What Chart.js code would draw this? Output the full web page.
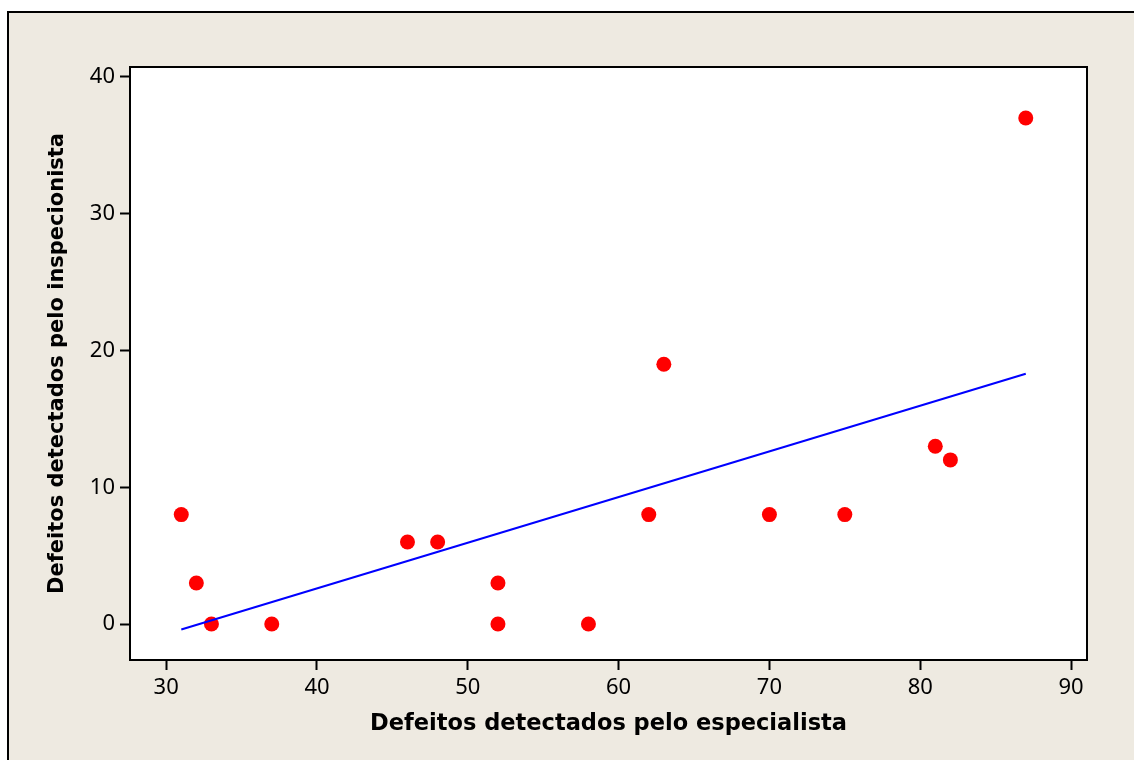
<!DOCTYPE html>
<html>
<head>
<meta charset="utf-8">
<title>Defeitos detectados</title>
<script src="https://cdn.jsdelivr.net/npm/chart.js@4.4.1/dist/chart.umd.min.js"></script>
<style>
  html, body { margin: 0; padding: 0; background: #ffffff; }
  canvas { display: block; }
</style>
</head>
<body>
<canvas id="scatterChart" width="1134" height="760"></canvas>
<script>
// especialista (x) vs inspecionista (y)
const especialista = [31, 32, 33, 37, 46, 48, 52, 52, 58, 62, 63, 70, 75, 81, 82, 87];
const inspecionista = [8, 3, 0, 0, 6, 6, 3, 0, 0, 8, 19, 8, 8, 13, 12, 37];

// fitted line ends
const fitX = [31, 87];
const fitY = [-0.4, 18.3];

const xTicks = [30, 40, 50, 60, 70, 80, 90];
const yTicks = [0, 10, 20, 30, 40];

const xTitle = "Defeitos detectados pelo especialista";
const yTitle = "Defeitos detectados pelo inspecionista";

const points = especialista.map((x, i) => ({ x: x, y: inspecionista[i] }));
const fitLine = fitX.map((x, i) => ({ x: x, y: fitY[i] }));

const frame = {
  id: 'frame',
  beforeDraw(chart) {
    const ctx = chart.ctx;
    ctx.save();
    ctx.fillStyle = '#ffffff';
    ctx.fillRect(0, 0, chart.width, chart.height);
    ctx.fillStyle = '#EEEAE1';
    ctx.fillRect(8, 12, chart.width, chart.height);
    ctx.strokeStyle = '#000000';
    ctx.lineWidth = 2;
    ctx.beginPath();
    ctx.moveTo(8, chart.height + 5);
    ctx.lineTo(8, 12);
    ctx.lineTo(chart.width + 5, 12);
    ctx.stroke();
    const a = chart.chartArea;
    ctx.fillStyle = '#ffffff';
    ctx.fillRect(a.left, a.top, a.right - a.left, a.bottom - a.top);
    ctx.restore();
  },
  afterDatasetsDraw(chart) {
    const ctx = chart.ctx;
    const a = chart.chartArea;
    ctx.save();
    ctx.strokeStyle = '#000000';
    ctx.lineWidth = 2;
    ctx.strokeRect(a.left, a.top, a.right - a.left, a.bottom - a.top);
    ctx.restore();
  }
};

const tickFont = { family: 'Noto Sans', size: 22 };

new Chart(document.getElementById('scatterChart'), {
  type: 'scatter',
  data: {
    datasets: [
      {
        data: fitLine,
        showLine: true,
        borderColor: '#0000FF',
        borderWidth: 2,
        pointRadius: 0,
        fill: false
      },
      {
        data: points,
        backgroundColor: '#FF0000',
        borderWidth: 0,
        pointRadius: 7.5
      }
    ]
  },
  options: {
    responsive: false,
    animation: false,
    layout: { padding: { top: 67, right: 47, left: 0, bottom: 0 } },
    plugins: {
      legend: { display: false },
      tooltip: { enabled: false }
    },
    scales: {
      x: {
        type: 'linear',
        min: 27.6,
        max: 91.06,
        afterBuildTicks: s => { s.ticks = xTicks.map(v => ({ value: v })); },
        afterFit: s => { s.height = 100; },
        grid: {
          drawOnChartArea: false,
          drawTicks: true,
          tickLength: 10,
          tickColor: '#000000',
          tickWidth: 2
        },
        border: { display: true, color: '#000000', width: 2 },
        ticks: { color: '#000000', font: tickFont, padding: 5, maxRotation: 0 },
        title: {
          display: true,
          text: xTitle,
          color: '#000000',
          font: { family: 'DejaVu Sans', size: 22.5, weight: 'bold' },
          padding: { top: 0, bottom: 22 }
        }
      },
      y: {
        type: 'linear',
        min: -2.63,
        max: 40.73,
        afterBuildTicks: s => { s.ticks = yTicks.map(v => ({ value: v })); },
        afterFit: s => { s.width = 130; },
        grid: {
          drawOnChartArea: false,
          drawTicks: true,
          tickLength: 10,
          tickColor: '#000000',
          tickWidth: 2
        },
        border: { display: true, color: '#000000', width: 2 },
        ticks: { color: '#000000', font: tickFont, padding: 5 },
        title: {
          display: true,
          text: yTitle,
          color: '#000000',
          font: { family: 'DejaVu Sans', size: 21, weight: 'bold' },
          padding: { top: 45, bottom: 0 }
        }
      }
    }
  },
  plugins: [frame]
});
</script>
</body>
</html>
